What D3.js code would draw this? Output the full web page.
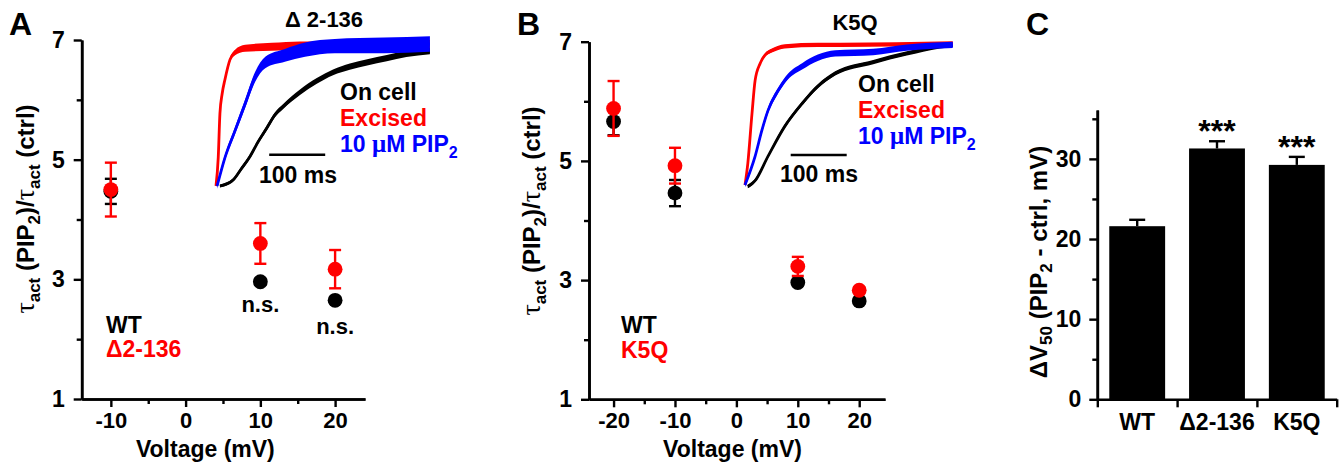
<!DOCTYPE html>
<html><head><meta charset="utf-8">
<script src="https://cdn.jsdelivr.net/npm/d3@7"></script>
<style>
body{margin:0;background:#fff;}
svg{display:block;}
text{font-family:'Liberation Sans',Arial,sans-serif;font-weight:bold;}
</style></head>
<body>
<script>
// ---------- data ----------
const voltA = [-10, 10, 20];
const wtA = [4.47, 2.96, 2.65];
const wtAErr = [0.21, 0.05, 0.05];
const delA = [4.50, 3.60, 3.17];
const delAErr = [0.45, 0.34, 0.32];
const nsLabelsA = ["", "n.s.", "n.s."];

const voltB = [-20, -10, 10, 20];
const wtB = [5.66, 4.46, 2.96, 2.65];
const wtBErr = [0.23, 0.22, 0.05, 0.05];
const k5qB = [5.88, 4.92, 3.23, 2.83];
const k5qBErr = [0.46, 0.30, 0.16, 0.05];

const ticksVA = [-10, 0, 10, 20];
const minorVA = [-5, 5, 15];
const ticksVB = [-20, -10, 0, 10, 20];
const minorVB = [-15, -5, 5, 15];
const ticksRatio = [1, 3, 5, 7];
const minorRatio = [2, 4, 6];

const catsC = ["WT", "\u03942-136", "K5Q"];
const valsC = [21.6, 31.3, 29.25];
const errC = [0.8, 0.9, 1.0];
const sigC = ["", "***", "***"];
const ticksC = [0, 10, 20, 30];
const minorC = [5, 15, 25, 35];

// inset traces (time in ms, normalized current, noise half-amplitude)
const tA_on  = [7, 30, 45, 61, 75, 91, 105, 120, 150, 180, 209, 239, 270, 305, 340, 382];
const iA_on  = [0, 0.04, 0.12, 0.21, 0.31, 0.41, 0.50, 0.56, 0.66, 0.74, 0.80, 0.84, 0.87, 0.90, 0.93, 0.95];
const nA_on  = [0.01, 0.012, 0.015, 0.015, 0.015, 0.018, 0.018, 0.018, 0.02, 0.02, 0.02, 0.022, 0.022, 0.022, 0.022, 0.022];
const tA_ex  = [0, 4, 7, 11, 16, 25, 34, 52, 100, 150, 250, 382];
const iA_ex  = [0, 0.20, 0.51, 0.65, 0.75, 0.89, 0.94, 0.97, 0.98, 0.99, 0.99, 1.0];
const nA_ex  = [0.01, 0.008, 0.008, 0.01, 0.012, 0.015, 0.02, 0.025, 0.028, 0.028, 0.028, 0.028];
const tA_pip = [2, 16, 34, 52, 70, 88, 123, 159, 212, 300, 382];
const iA_pip = [0, 0.20, 0.39, 0.58, 0.77, 0.87, 0.92, 0.96, 0.985, 0.99, 1.0];
const nA_pip = [0.02, 0.02, 0.025, 0.03, 0.035, 0.04, 0.045, 0.05, 0.05, 0.055, 0.055];

const tB_on  = [5, 18, 41, 71, 102, 130, 161, 229, 289, 348, 371];
const iB_on  = [-0.01, 0.03, 0.20, 0.41, 0.57, 0.69, 0.78, 0.86, 0.92, 0.97, 0.98];
const nB_on  = [0.012, 0.012, 0.012, 0.014, 0.014, 0.015, 0.015, 0.015, 0.015, 0.015, 0.015];
const tB_ex  = [0, 5, 12.5, 18, 27, 36, 48, 71, 130, 170, 371];
const iB_ex  = [0, 0.15, 0.50, 0.73, 0.85, 0.91, 0.94, 0.97, 0.98, 0.98, 0.99];
const nB_ex  = [0.008, 0.006, 0.006, 0.008, 0.01, 0.012, 0.014, 0.015, 0.015, 0.015, 0.015];
const tB_pip = [0, 18, 30, 41, 59, 77, 102, 130, 161, 229, 289, 371];
const iB_pip = [0, 0.20, 0.38, 0.52, 0.66, 0.76, 0.83, 0.89, 0.92, 0.93, 0.96, 0.98];
const nB_pip = [0.015, 0.015, 0.018, 0.02, 0.02, 0.02, 0.022, 0.022, 0.022, 0.022, 0.022, 0.022];

// ---------- drawing ----------
const W = 1341, H = 464;
const RED = "#ff0000", BLUE = "#0000ff", BLACK = "#000000";
const svg = d3.select("body").append("svg").attr("width", W).attr("height", H);

function styleAxis(g, fs) {
  g.select(".domain").attr("stroke", "#000").attr("stroke-width", 2.6);
  g.selectAll(".tick line").attr("stroke", "#000").attr("stroke-width", 2.4);
  g.selectAll(".tick text").attr("font-size", fs).attr("fill", "#000")
    .attr("font-family", "'Liberation Sans',Arial,sans-serif").attr("font-weight", "bold");
}

function scatterPanel(cfg) {
  const x = d3.scaleLinear().domain(cfg.xDomain).range(cfg.xRange);
  const y = d3.scaleLinear().domain([1, 7]).range(cfg.yRange);
  const g = svg.append("g");
  g.append("g").attr("transform", `translate(0,${cfg.yRange[0]})`)
    .call(d3.axisBottom(x).tickValues(cfg.minorX).tickSize(5).tickSizeOuter(0).tickFormat(""))
    .call(a => styleAxis(a, 22));
  g.append("g").attr("transform", `translate(${cfg.xRange[0]},0)`)
    .call(d3.axisLeft(y).tickValues(minorRatio).tickSize(5).tickSizeOuter(0).tickFormat(""))
    .call(a => styleAxis(a, 22));
  g.append("g").attr("transform", `translate(0,${cfg.yRange[0]})`)
    .call(d3.axisBottom(x).tickValues(cfg.ticksX).tickSize(8).tickPadding(5).tickSizeOuter(0).tickFormat(d3.format("d")))
    .call(a => styleAxis(a, 22));
  g.append("g").attr("transform", `translate(${cfg.xRange[0]},0)`)
    .call(d3.axisLeft(y).tickValues(ticksRatio).tickSize(8).tickPadding(9).tickSizeOuter(0).tickFormat(d3.format("d")))
    .call(a => styleAxis(a, 23));
  g.selectAll(".tick text").text(function(){ return d3.select(this).text().replace("\u2212", "-"); });

  g.append("text").attr("x", (cfg.xRange[0] + cfg.xRange[1]) / 2 + cfg.xtOff).attr("y", 457)
    .attr("text-anchor", "middle").attr("font-size", 23).text("Voltage (mV)");
  const yt = g.append("text").attr("transform", `translate(${cfg.ytX},${cfg.ytY}) rotate(-90)`)
    .attr("text-anchor", "middle").attr("font-size", 24);
  yt.append("tspan").attr("font-family", "'Liberation Serif',serif").attr("font-weight", "normal").attr("font-size", 28).text("\u03c4");
  yt.append("tspan").attr("font-size", 17).attr("dy", 6).text("act");
  yt.append("tspan").attr("dy", -6).text(" (PIP");
  yt.append("tspan").attr("font-size", 17).attr("dy", 6).text("2");
  yt.append("tspan").attr("dy", -6).text(")/");
  yt.append("tspan").attr("font-family", "'Liberation Serif',serif").attr("font-weight", "normal").attr("font-size", 28).text("\u03c4");
  yt.append("tspan").attr("font-size", 17).attr("dy", 6).text("act");
  yt.append("tspan").attr("dy", -6).text(" (ctrl)");

  cfg.series.forEach(s => {
    const sg = g.append("g");
    s.v.forEach((vx, i) => {
      const cx = x(vx), lo = y(s.m[i] - s.e[i]), hi = y(s.m[i] + s.e[i]);
      sg.append("line").attr("x1", cx).attr("x2", cx).attr("y1", lo).attr("y2", hi)
        .attr("stroke", s.c).attr("stroke-width", 2.4);
      [lo, hi].forEach(yy => sg.append("line").attr("x1", cx - 6).attr("x2", cx + 6)
        .attr("y1", yy).attr("y2", yy).attr("stroke", s.c).attr("stroke-width", 2.4));
      sg.append("circle").attr("cx", cx).attr("cy", y(s.m[i])).attr("r", 7.4).attr("fill", s.c);
    });
  });
  return {x, y, g};
}

function inset(cfg) {
  const t = d3.scaleLinear().domain([0, 100]).range(cfg.tRange);
  const yi = d3.scaleLinear().domain([0, 1]).range(cfg.iRange);
  const g = svg.append("g");
  cfg.traces.forEach(tr => {
    const pts = tr.t.map((tt, i) => ({t: tt, i: tr.i[i], n: tr.n[i]}));
    g.append("path").datum(pts)
      .attr("d", d3.area().x(d => t(d.t)).y0(d => yi(d.i - d.n)).y1(d => yi(d.i + d.n)).curve(d3.curveMonotoneX))
      .attr("fill", tr.c);
    g.append("path").datum(pts)
      .attr("d", d3.line().x(d => t(d.t)).y(d => yi(d.i)).curve(d3.curveMonotoneX))
      .attr("fill", "none").attr("stroke", tr.c).attr("stroke-width", 2.8).attr("stroke-linejoin", "round");
  });
  g.append("line").attr("x1", t(cfg.bar[0])).attr("x2", t(cfg.bar[0] + 100))
    .attr("y1", yi(cfg.bar[1])).attr("y2", yi(cfg.bar[1])).attr("stroke", "#000").attr("stroke-width", 2.6);
  g.append("text").attr("x", cfg.barText[0]).attr("y", cfg.barText[1]).attr("text-anchor", "middle")
    .attr("font-size", 23).text("100 ms");
  const L = cfg.legend;
  g.append("text").attr("x", L[0]).attr("y", L[1]).attr("font-size", 23).attr("fill", BLACK).text("On cell");
  g.append("text").attr("x", L[0]).attr("y", L[1] + 25.5).attr("font-size", 23).attr("fill", RED).text("Excised");
  const p = g.append("text").attr("x", L[0]).attr("y", L[1] + 51.5).attr("font-size", 23).attr("fill", BLUE);
  p.append("tspan").text("10 ");
  p.append("tspan").attr("font-family", "'Liberation Serif',serif").attr("font-size", 25).text("\u03bc");
  p.append("tspan").text("M PIP");
  p.append("tspan").attr("font-size", 16).attr("dy", 6).text("2");
  g.append("text").attr("x", cfg.title[0]).attr("y", cfg.title[1]).attr("text-anchor", "middle")
    .attr("font-size", 22).text(cfg.title[2]);
}

// ---------- Panel A ----------
const A = scatterPanel({
  xDomain: [-13.9, 24.0], xRange: [81.7, 365], yRange: [399, 40],
  ticksX: ticksVA, minorX: minorVA, xtOff: -18, ytX: 34, ytY: 209,
  series: [
    {v: voltA, m: wtA, e: wtAErr, c: BLACK},
    {v: voltA, m: delA, e: delAErr, c: RED}
  ]
});
voltA.forEach((vx, i) => {
  if (nsLabelsA[i]) A.g.append("text").attr("x", A.x(vx)).attr("y", A.y(wtA[i]) + (i === 1 ? 30 : 34))
    .attr("text-anchor", "middle").attr("font-size", 22).text(nsLabelsA[i]);
});
svg.append("text").attr("x", 106).attr("y", 333).attr("font-size", 23).text("WT");
svg.append("text").attr("x", 106).attr("y", 357).attr("font-size", 23).attr("fill", RED).text("\u03942-136");
svg.append("text").attr("x", 9).attr("y", 35).attr("font-size", 32).text("A");

inset({
  tRange: [216, 272], iRange: [186, 44],
  traces: [
    {t: tA_on, i: iA_on, n: nA_on, c: BLACK},
    {t: tA_ex, i: iA_ex, n: nA_ex, c: RED},
    {t: tA_pip, i: iA_pip, n: nA_pip, c: BLUE}
  ],
  bar: [95, 0.22], barText: [298, 183], legend: [340, 100], title: [324, 27, "\u0394 2-136"]
});

// ---------- Panel B ----------
scatterPanel({
  xDomain: [-24, 24.2], xRange: [589, 885], yRange: [399.3, 41.7],
  ticksX: ticksVB, minorX: minorVB, xtOff: -4.5, ytX: 540, ytY: 211,
  series: [
    {v: voltB, m: wtB, e: wtBErr, c: BLACK},
    {v: voltB, m: k5qB, e: k5qBErr, c: RED}
  ]
});
svg.append("text").attr("x", 621).attr("y", 333).attr("font-size", 23).text("WT");
svg.append("text").attr("x", 621).attr("y", 358).attr("font-size", 23).attr("fill", RED).text("K5Q");
svg.append("text").attr("x", 517).attr("y", 35).attr("font-size", 32).text("B");

inset({
  tRange: [745, 801], iRange: [185, 42],
  traces: [
    {t: tB_on, i: iB_on, n: nB_on, c: BLACK},
    {t: tB_ex, i: iB_ex, n: nB_ex, c: RED},
    {t: tB_pip, i: iB_pip, n: nB_pip, c: BLUE}
  ],
  bar: [81.6, 0.21], barText: [819, 182], legend: [858, 92], title: [855, 30, "K5Q"]
});

// ---------- Panel C ----------
(function(){
  const x = d3.scaleBand().domain(catsC).range([1097.3, 1336.7]).paddingInner(0.3).paddingOuter(0.15);
  const y = d3.scaleLinear().domain([0, 36.1]).range([399.3, 110]);
  const g = svg.append("g");
  catsC.forEach((c, i) => {
    const bx = x(c), bw = x.bandwidth(), cx = bx + bw / 2;
    g.append("line").attr("x1", cx).attr("x2", cx).attr("y1", y(valsC[i])).attr("y2", y(valsC[i] + errC[i]))
      .attr("stroke", "#000").attr("stroke-width", 2.4);
    g.append("line").attr("x1", cx - 8).attr("x2", cx + 8).attr("y1", y(valsC[i] + errC[i])).attr("y2", y(valsC[i] + errC[i]))
      .attr("stroke", "#000").attr("stroke-width", 2.4);
    g.append("rect").attr("x", bx).attr("y", y(valsC[i])).attr("width", bw).attr("height", y(0) - y(valsC[i]))
      .attr("fill", "#000");
    if (sigC[i]) g.append("text").attr("x", cx).attr("y", y(valsC[i] + errC[i]) + 1)
      .attr("text-anchor", "middle").attr("font-size", 32).text(sigC[i]);
    g.append("text").attr("x", cx).attr("y", 430).attr("text-anchor", "middle").attr("font-size", 23).text(c);
  });
  g.append("g").attr("transform", "translate(1097.3,0)")
    .call(d3.axisLeft(y).tickValues(minorC).tickSize(5).tickSizeOuter(0).tickFormat(""))
    .call(a => styleAxis(a, 23));
  g.append("g").attr("transform", "translate(1097.3,0)")
    .call(d3.axisLeft(y).tickValues(ticksC).tickSize(8).tickPadding(8).tickSizeOuter(0).tickFormat(d3.format("d")))
    .call(a => styleAxis(a, 23));
  const xb = d3.scaleLinear().domain([0, 3]).range([1097.3, 1336.7]);
  g.append("g").attr("transform", "translate(0,399.3)")
    .call(d3.axisBottom(xb).tickValues([0, 1, 2, 3]).tickSize(8).tickSizeOuter(0).tickFormat(""))
    .call(a => styleAxis(a, 23));
  const yt = g.append("text").attr("transform", "translate(1047,262) rotate(-90)")
    .attr("text-anchor", "middle").attr("font-size", 24);
  yt.append("tspan").text("\u0394V");
  yt.append("tspan").attr("font-size", 17).attr("dy", 5).text("50");
  yt.append("tspan").attr("dy", -5).text(" (PIP");
  yt.append("tspan").attr("font-size", 17).attr("dy", 5).text("2");
  yt.append("tspan").attr("dy", -5).text(" - ctrl, mV)");
  svg.append("text").attr("x", 1026).attr("y", 35).attr("font-size", 32).text("C");
})();
</script>
</body></html>
